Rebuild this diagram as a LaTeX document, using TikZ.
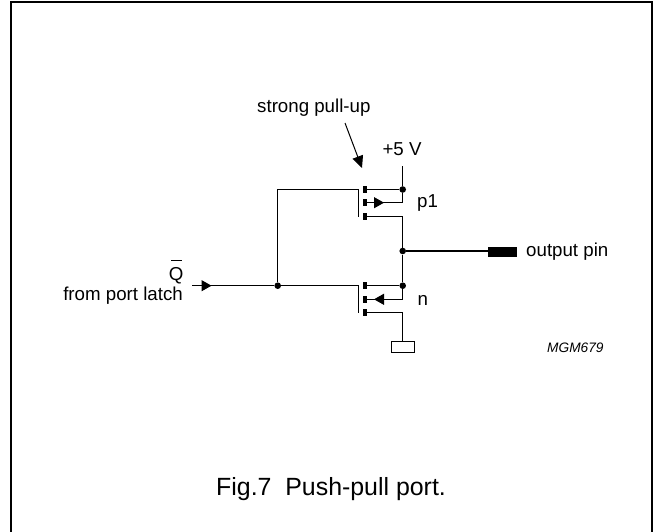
\documentclass[tikz,border=0pt]{standalone}
\usepackage{fontspec}
\setmainfont{Liberation Sans}
\usetikzlibrary{arrows.meta}
\begin{document}
\begin{tikzpicture}[x=1pt,y=-1pt,
  wire/.style={line width=1.1pt,black},
  stub/.style={fill=black,minimum width=3.6pt,minimum height=6.5pt,inner sep=0pt,draw=none},
  junction/.style={circle,fill=black,minimum size=6.6pt,inner sep=0pt,draw=none},
  lbl/.style={font=\fontsize{18.7}{22}\selectfont,inner sep=0pt},
  head/.style={-{Triangle[length=10pt,width=11pt]},line width=1.1pt},
  pin/.style={fill=black,minimum width=28.5pt,minimum height=10pt,inner sep=0pt,draw=none},
  gnd/.style={draw=black,line width=0.9pt,fill=white,minimum width=22.5pt,minimum height=11.5pt,inner sep=0pt}]
\useasboundingbox (0,0) rectangle (653,532);
\draw[line width=1.6pt] (11,533) -- (11,2) -- (652,2) -- (652,533);
% junctions and stubs
\coordinate (vcc) at (402.7,166);
\node[junction] (jtop) at (402.7,189.5) {};
\node[junction] (jout) at (402.7,251) {};
\node[junction] (jbot) at (402.7,285.7) {};
\node[junction] (jin) at (277.7,285.7) {};
\coordinate (gcorner) at (277.7,189.5);
\node[stub] (s1) at (365,189.5) {};
\node[stub] (s2) at (365,202.7) {};
\node[stub] (s3) at (365,216.7) {};
\node[stub] (s4) at (365,285.7) {};
\node[stub] (s5) at (365,299.3) {};
\node[stub] (s6) at (365,312.3) {};
\coordinate (g1t) at (358.3,189.5);
\coordinate (g1b) at (358.3,216.5);
\coordinate (g2t) at (358.3,285.7);
\coordinate (g2b) at (358.3,312.5);
\coordinate (c2) at (402.7,202.7);
\coordinate (c3) at (402.7,216.7);
\coordinate (c5) at (402.7,299.3);
\coordinate (c6) at (402.7,312.3);
\node[gnd] (ground) at (403,346.8) {};
\node[pin] (outpin) at (502.5,252) {};
% wires
\draw[wire] (vcc) -- (jtop) -- (c2);
\draw[wire] (s1) -- (jtop);
\draw[wire] (s3) -- (c3) -- (jout) -- (jbot) -- (c5);
\draw[wire] (jout) -- (jout -| outpin.west);
\draw[wire] (s4) -- (jbot);
\draw[wire] (s6) -- (c6) -- (ground.north -| c6);
\draw[wire] (jin) -- (gcorner) -- (g1t) -- (g1b);
\draw[wire] (jin) -- (g2t) -- (g2b);
% source arrows
\coordinate (a1) at (384,202.7);
\coordinate (a2) at (374,299.3);
\draw[wire] (s2) -- (c2);
\draw[head] (s2) -- (a1);
\draw[wire] (s5) -- (c5);
\draw[head] (c5) -- (a2);
% input arrow
\coordinate (instart) at (192,285.7);
\coordinate (inhead) at (211.5,285.7);
\draw[wire] (instart) -- (jin);
\draw[head] (instart) -- (inhead);
% strong pull-up pointer
\coordinate (ptrs) at (345,123);
\coordinate (ptre) at (362,168);
\draw[line width=1pt,-{Triangle[length=12pt,width=11pt]}] (ptrs) -- (ptre);
% labels
\node[lbl,anchor=base west] (l1) at (257,113) {strong pull-up};
\node[lbl,anchor=base] (l2) at (402,156) {+5 V};
\node[lbl,anchor=base west] (l3) at (417,207) {p1};
\node[lbl,anchor=base west] (l4) at (417.5,305) {n};
\node[lbl,anchor=base west] (l5) at (526,256) {output pin};
\node[lbl,anchor=base east] (l6) at (183.5,280) {Q};
\coordinate (ob1) at (171,260);
\coordinate (ob2) at (182,260);
\draw[line width=1pt] (ob1) -- (ob2);
\node[lbl,anchor=base east] (l7) at (183,300) {from port latch};
\node[anchor=base west,inner sep=0,font=\fontsize{13.7}{16}\selectfont\itshape] (l8) at (547,352) {MGM679};
\node[anchor=base west,inner sep=0,font=\fontsize{24.9}{30}\selectfont] (l9) at (216,495) {Fig.7\hspace{13.8pt}Push-pull port.};
\end{tikzpicture}
\end{document}
